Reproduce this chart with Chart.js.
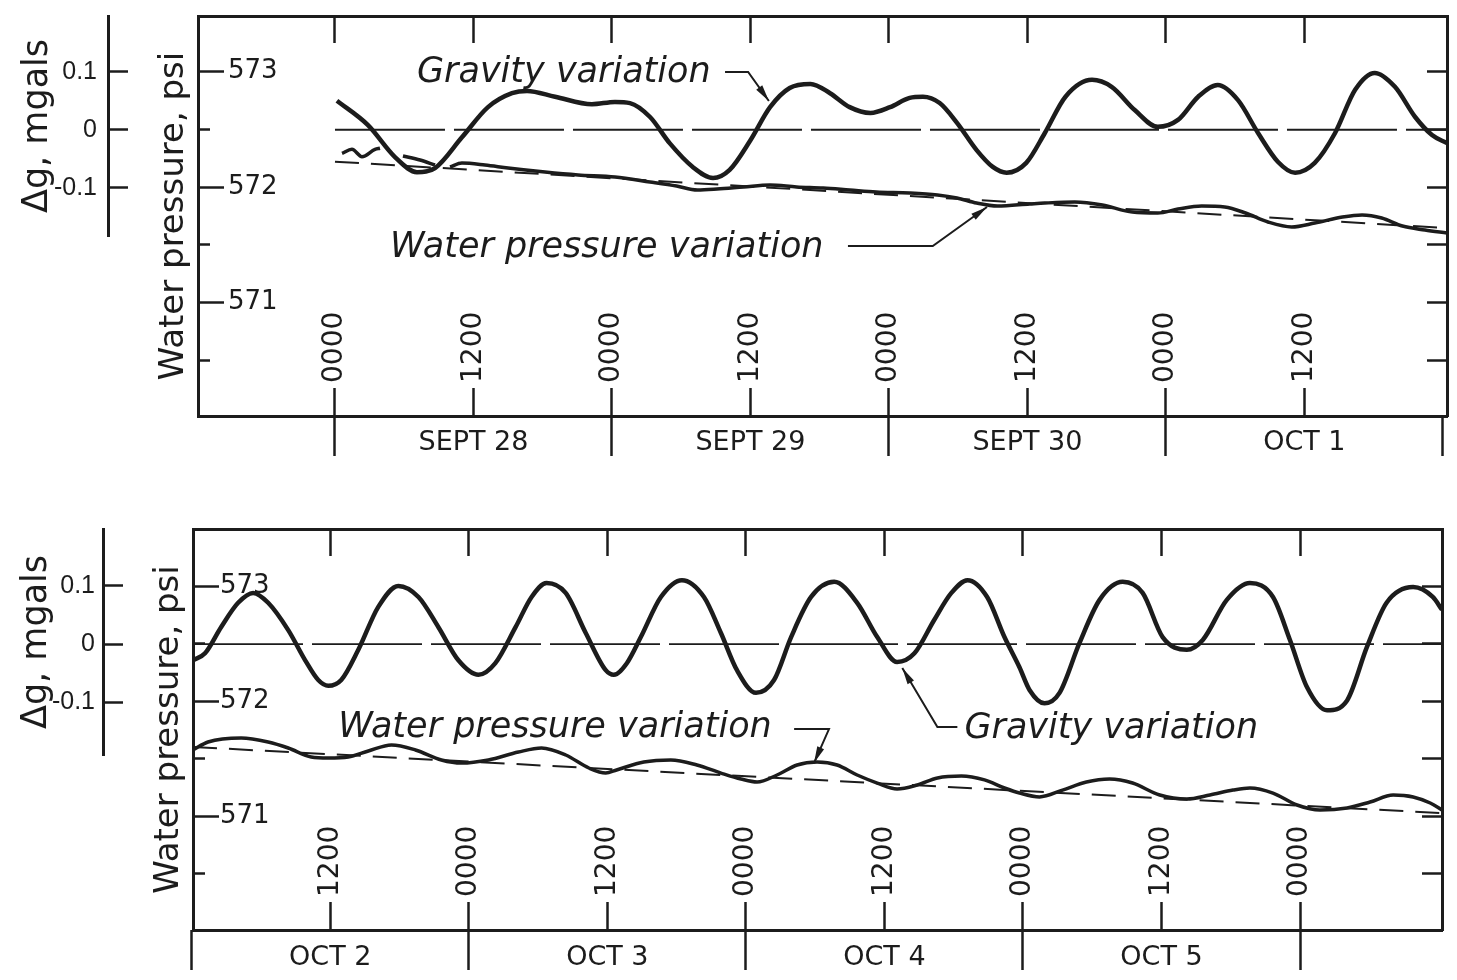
<!DOCTYPE html>
<html>
<head>
<meta charset="utf-8">
<script src="https://cdn.jsdelivr.net/npm/chart.js@4.4.1/dist/chart.umd.min.js"></script>
<style>
  body { margin: 0; background: #fff; width: 1457px; height: 980px; overflow: hidden; }
  .panel { position: absolute; left: 0; width: 1457px; height: 490px; }
</style>
</head>
<body>
<div class="panel" style="top:0"><canvas id="topChart" width="1457" height="490"></canvas></div>
<div class="panel" style="top:490px"><canvas id="bottomChart" width="1457" height="490"></canvas></div>
<script>
// hours are counted from 0000 Sept 28 (top) and 0000 Oct 2 (bottom)

// shared tick values
const pressureMajorTicks = [571, 572, 573];
const pressureMinorTicks = [570.5, 571.5, 572.5];
const pressureRightTicks = [570.5, 571, 571.5, 572, 572.5, 573];
const gravityTicks = [-0.1, 0, 0.1];

// top panel: Sept 28 - Oct 1
const topHourTicks = [0, 12, 24, 36, 48, 60, 72, 84];
const topHourLabels = ['0000', '1200', '0000', '1200', '0000', '1200', '0000', '1200'];
const topDayTicks = [0, 24, 48, 72, 96];
const topDateTicks = [12, 36, 60, 84];
const topDateLabels = ['SEPT 28', 'SEPT 29', 'SEPT 30', 'OCT 1'];

const topGravHours = [0.17, 2.86, 5.2, 7.1, 8.67, 11.0, 13.26, 15.34, 16.64, 19.07, 22.27, 24.26, 25.56, 27.3, 29.0,
  31.0, 32.76, 34.2, 36.0, 37.7, 39.4, 41.2, 42.9, 44.6, 46.4, 48.1, 49.8, 50.95, 52.4, 53.9, 55.6, 57.0, 58.2, 59.9,
  61.5, 63.3, 65.6, 67.3, 69.3, 71.3, 73.05, 74.8, 76.5, 78.25, 80.0, 81.7, 83.2, 84.9, 86.65, 88.4, 90.1, 91.85,
  93.6, 95.06, 96.36];
const topGravValues = [0.050, 0.008, -0.047, -0.073, -0.066, -0.013, 0.039, 0.063, 0.067, 0.057, 0.044, 0.048, 0.046,
  0.022, -0.023, -0.064, -0.083, -0.069, -0.018, 0.039, 0.072, 0.079, 0.063, 0.039, 0.029, 0.039, 0.055, 0.057, 0.046,
  0.012, -0.035, -0.064, -0.074, -0.057, -0.006, 0.057, 0.086, 0.074, 0.034, 0.005, 0.017, 0.057, 0.077, 0.051,
  -0.006, -0.055, -0.074, -0.057, -0.006, 0.069, 0.098, 0.074, 0.022, -0.009, -0.023];

const topPresHours = [0.61, 1.47, 2.34, 3.47, 3.9, 4.9, 5.89, 7.37, 8.67, 9.3, 9.97, 11.0, 13.0, 15.0, 18.2, 21.06,
  24.26, 27.3, 29.6, 31.4, 33.1, 35.4, 37.7, 40.0, 42.3, 44.6, 46.9, 49.8, 52.2, 53.9, 55.6, 57.4, 60.2, 61.5, 64.1,
  66.5, 69.1, 71.3, 73.05, 75.1, 77.1, 78.9, 80.85, 82.9, 84.9, 87.3, 89.0, 90.7, 92.5, 94.45, 96.36];
const topPresValues = [572.292, 572.327, 572.263, 572.327, 572.336, null, 572.269, 572.234, 572.191, null, 572.174,
  572.208, 572.191, 572.165, 572.130, 572.105, 572.087, 572.044, 572.009, 571.975, 571.983, 572.001, 572.018, 572.001,
  571.992, 571.975, 571.958, 571.949, 571.932, 571.906, 571.862, 571.836, 571.854, 571.862, 571.871, 571.845, 571.784,
  571.776, 571.810, 571.836, 571.828, 571.776, 571.698, 571.655, 571.689, 571.741, 571.759, 571.733, 571.663,
  571.629, 571.603];

const topTrendHours = [0, 96.36];
const topTrendValues = [572.22, 571.645];
const topZeroHours = [0, 96.36];
const topZeroValues = [0, 0];

// bottom panel: Oct 2 - Oct 6
const bottomHourTicks = [12, 24, 36, 48, 60, 72, 84, 96];
const bottomHourLabels = ['1200', '0000', '1200', '0000', '1200', '0000', '1200', '0000'];
const bottomDayTicks = [0, 24, 48, 72, 96];
const bottomDateTicks = [12, 36, 60, 84];
const bottomDateLabels = ['OCT 2', 'OCT 3', 'OCT 4', 'OCT 5'];

const bottomGravHours = [0.11, 1.15, 2.54, 4.02, 5.32, 6.62, 8.36, 9.83, 10.96, 11.83, 12.95, 14.43, 16.16, 17.9,
  19.64, 21.37, 23.1, 24.84, 26.3, 28.05, 29.44, 30.74, 32.39, 34.13, 35.86, 36.56, 37.69, 38.9, 40.64, 42.46, 44.37,
  45.84, 47.23, 48.88, 50.44, 51.92, 53.65, 55.65, 57.64, 59.38, 61.1, 62.6, 64.3, 65.8, 67.2, 68.9, 70.4, 71.7,
  72.57, 73.87, 75.17, 76.9, 78.64, 80.64, 82.37, 84.1, 86.2, 87.58, 89.66, 91.66, 93.66, 95.13, 96.6, 98.34,
  100.08, 101.8, 103.5, 105.8, 107.5, 108.3];
const bottomGravValues = [-0.028, -0.016, 0.029, 0.071, 0.088, 0.071, 0.024, -0.028, -0.062, -0.072, -0.062, -0.010,
  0.064, 0.100, 0.081, 0.029, -0.028, -0.053, -0.033, 0.029, 0.081, 0.105, 0.088, 0.019, -0.045, -0.053, -0.033,
  0.012, 0.081, 0.110, 0.081, 0.019, -0.045, -0.084, -0.062, 0.012, 0.081, 0.107, 0.071, 0.012, -0.031, -0.016,
  0.041, 0.088, 0.110, 0.081, 0.012, -0.040, -0.079, -0.102, -0.084, 0.002, 0.076, 0.107, 0.088, 0.012, -0.010,
  0.007, 0.076, 0.105, 0.081, 0.007, -0.074, -0.114, -0.097, -0.005, 0.071, 0.098, 0.081, 0.059];

const bottomPresHours = [0.11, 1.41, 4.28, 6.62, 8.36, 10.35, 11.83, 13.56, 15.3, 17.3, 19.38, 21.63, 23.37, 25.7,
  28.3, 30.3, 32.4, 34.4, 35.86, 36.8, 39.16, 41.5, 43.76, 45.84, 47.58, 48.97, 50.7, 52.44, 54.17, 55.9, 57.64,
  59.38, 61.1, 62.85, 64.6, 66.67, 68.67, 70.4, 71.7, 73.44, 75.43, 77.5, 79.5, 81.5, 83.85, 86.2, 88.2, 90.2,
  91.66, 93.66, 95.74, 97.73, 100.08, 102.07, 104.07, 105.8, 107.28, 108.3];
const bottomPresValues = [571.577, 571.646, 571.681, 571.646, 571.594, 571.516, 571.507, 571.516, 571.568, 571.620,
  571.577, 571.490, 571.463, 571.490, 571.559, 571.594, 571.533, 571.420, 571.376, 571.403, 571.472, 571.490,
  571.446, 571.376, 571.324, 571.298, 571.359, 571.446, 571.472, 571.446, 571.359, 571.289, 571.237, 571.272,
  571.333, 571.350, 571.316, 571.246, 571.202, 571.168, 571.228, 571.298, 571.324, 571.289, 571.185, 571.150,
  571.185, 571.228, 571.246, 571.202, 571.098, 571.054, 571.072, 571.124, 571.185, 571.168, 571.115, 571.055];

const bottomTrendHours = [0.11, 108.3];
const bottomTrendValues = [571.603, 571.027];
const bottomZeroHours = [0.11, 108.3];
const bottomZeroValues = [0, 0];

const INK = '#1c1c1c';
Chart.defaults.font.family = '"DejaVu Sans", sans-serif';
Chart.defaults.color = INK;

// fixed box sizes so the plot boxes land where the figure has them
function size(w, h) {
  return function (s) {
    if (w !== undefined) s.width = w;
    if (h !== undefined) s.height = h;
    s.paddingLeft = s.paddingRight = s.paddingTop = s.paddingBottom = 0;
  };
}
function ticksAt(values) {
  return function (s) { s.ticks = values.map(v => ({ value: v })); };
}
const pts = (xs, ys) => xs.map((x, i) => ({ x: x, y: ys[i] }));

// hour labels inside the box, captions and arrows
function sketch(cfg) {
  return {
    id: 'sketch',
    afterDatasetsDraw(chart) {
      const ctx = chart.ctx, xs = chart.scales.x, ps = chart.scales.p, area = chart.chartArea;
      ctx.save();
      ctx.fillStyle = INK;
      ctx.strokeStyle = INK;
      ctx.font = '28px "DejaVu Sans"';
      ctx.textAlign = 'left';
      ctx.textBaseline = 'middle';
      cfg.hourTicks.forEach((h, i) => {
        ctx.save();
        ctx.translate(xs.getPixelForValue(h), area.bottom - 33);
        ctx.rotate(-Math.PI / 2);
        ctx.fillText(cfg.hourLabels[i], 0, 0);
        ctx.restore();
      });

      ctx.font = 'italic 35px "DejaVu Sans"';
      ctx.textBaseline = 'alphabetic';
      cfg.notes.forEach(n => ctx.fillText(n.text, xs.getPixelForValue(n.x), ps.getPixelForValue(n.y)));

      ctx.lineWidth = 2;
      cfg.leaders.forEach(l => {
        const q = l.x.map((h, i) => [xs.getPixelForValue(h), ps.getPixelForValue(l.y[i])]);
        ctx.beginPath();
        q.forEach(([a, b], i) => i ? ctx.lineTo(a, b) : ctx.moveTo(a, b));
        ctx.stroke();
        const [x1, y1] = q[q.length - 2], [x2, y2] = q[q.length - 1];
        const ang = Math.atan2(y2 - y1, x2 - x1);
        ctx.beginPath();
        ctx.moveTo(x2, y2);
        ctx.lineTo(x2 - 17 * Math.cos(ang - 0.22), y2 - 17 * Math.sin(ang - 0.22));
        ctx.lineTo(x2 - 17 * Math.cos(ang + 0.22), y2 - 17 * Math.sin(ang + 0.22));
        ctx.closePath();
        ctx.fill();
      });
      ctx.restore();
    }
  };
}

function panel(id, cfg) {
  const tickMarks = (len) => ({ drawOnChartArea: false, tickLength: len, tickWidth: 2.5, tickColor: INK });
  const frame = { color: INK, width: 3 };
  const xr = { type: 'linear', min: cfg.xMin, max: cfg.xMax };
  const pr = { type: 'linear', min: cfg.pMin, max: cfg.pMax };

  new Chart(document.getElementById(id), {
    type: 'line',
    data: {
      datasets: [
        { label: 'Gravity variation', data: pts(cfg.gravHours, cfg.gravValues), yAxisID: 'g',
          borderColor: INK, borderWidth: 4.5, cubicInterpolationMode: 'monotone' },
        { label: 'Water pressure variation', data: pts(cfg.presHours, cfg.presValues), yAxisID: 'p',
          borderColor: INK, borderWidth: 3.5, cubicInterpolationMode: 'monotone', spanGaps: false },
        { label: 'Pressure trend', data: pts(cfg.trendHours, cfg.trendValues), yAxisID: 'p',
          borderColor: INK, borderWidth: 2, borderDash: [24, 12] },
        { label: 'Zero', data: pts(cfg.zeroHours, cfg.zeroValues), yAxisID: 'g',
          borderColor: INK, borderWidth: 1.8, borderDash: [110, 9] }
      ]
    },
    options: {
      responsive: false,
      animation: false,
      events: [],
      layout: { padding: cfg.padding },
      elements: { point: { radius: 0 }, line: { fill: false } },
      plugins: { legend: { display: false }, tooltip: { enabled: false } },
      scales: {
        x: { ...xr, position: 'bottom', weight: 1, afterBuildTicks: ticksAt(cfg.hourTicks),
          afterFit: size(undefined, 0), ticks: { display: false }, grid: tickMarks(-28), border: frame },
        days: { ...xr, position: 'bottom', weight: 2, afterBuildTicks: ticksAt(cfg.dayTicks),
          afterFit: size(undefined, 0), ticks: { display: false }, grid: tickMarks(40), border: { display: false } },
        dates: { ...xr, position: 'bottom', weight: 3, afterBuildTicks: ticksAt(cfg.dateTicks),
          afterFit: size(undefined, cfg.dateBand),
          ticks: { callback: (v, i) => cfg.dateLabels[i], padding: cfg.datePad, font: { size: 27 },
            maxRotation: 0, autoSkip: false },
          grid: { display: false, drawTicks: false }, border: { display: false } },
        xt: { ...xr, position: 'top', afterBuildTicks: ticksAt(cfg.hourTicks), afterFit: size(undefined, 0),
          ticks: { display: false }, grid: tickMarks(-27), border: frame },
        g: { type: 'linear', position: 'left', stack: 'dg', stackWeight: cfg.gWeight, weight: 4,
          min: cfg.gMin, max: cfg.gMax, afterBuildTicks: ticksAt(gravityTicks), afterFit: size(cfg.gWidth),
          ticks: { callback: v => String(v), padding: cfg.gPad,
            font: { family: '"Liberation Sans", sans-serif', size: 25 } },
          grid: tickMarks(-20), border: frame,
          title: { display: true, text: 'Δg, mgals', font: { size: 35 }, padding: { top: cfg.gTitlePad, bottom: 0 } } },
        gpad: { type: 'linear', position: 'left', stack: 'dg', stackWeight: cfg.gpadWeight, weight: 3,
          min: 0, max: 1, afterFit: size(cfg.gWidth),
          ticks: { display: false }, grid: { display: false }, border: { display: false } },
        p: { ...pr, position: 'left', weight: 2, afterBuildTicks: ticksAt(pressureMajorTicks), afterFit: size(90),
          ticks: { mirror: true, padding: cfg.pPad, callback: v => String(v), font: { size: 26 } },
          grid: tickMarks(-26), border: frame,
          title: { display: true, text: 'Water pressure, psi', font: { size: 34 }, padding: { top: 46, bottom: 0 } } },
        p2: { ...pr, position: 'left', weight: 1, afterBuildTicks: ticksAt(pressureMinorTicks), afterFit: size(0),
          ticks: { display: false }, grid: tickMarks(-12), border: { display: false } },
        pr: { ...pr, position: 'right', afterBuildTicks: ticksAt(pressureRightTicks), afterFit: size(0),
          ticks: { display: false }, grid: tickMarks(-20), border: frame }
      }
    },
    plugins: [sketch(cfg)]
  });
}

panel('topChart', {
  gravHours: topGravHours, gravValues: topGravValues,
  presHours: topPresHours, presValues: topPresValues,
  trendHours: topTrendHours, trendValues: topTrendValues,
  zeroHours: topZeroHours, zeroValues: topZeroValues,
  hourTicks: topHourTicks, hourLabels: topHourLabels,
  dayTicks: topDayTicks, dateTicks: topDateTicks, dateLabels: topDateLabels,
  xMin: -11.87, xMax: 96.36, pMin: 570.02, pMax: 573.48, gMin: -0.183, gMax: 0.196,
  gWeight: 220, gpadWeight: 180, gWidth: 108, gPad: 31, gTitlePad: 17, pPad: 30,
  dateBand: 60, datePad: 11,
  padding: { top: 16, right: 10, bottom: 14, left: 0 },
  notes: [
    { text: 'Gravity variation', x: 7.1, y: 572.909 },
    { text: 'Water pressure variation', x: 4.77, y: 571.395 }
  ],
  leaders: [
    { x: [33.8, 35.8, 37.6], y: [572.996, 572.996, 572.745] },
    { x: [44.45, 51.8, 56.5], y: [571.49, 571.49, 571.828] }
  ]
});

panel('bottomChart', {
  gravHours: bottomGravHours, gravValues: bottomGravValues,
  presHours: bottomPresHours, presValues: bottomPresValues,
  trendHours: bottomTrendHours, trendValues: bottomTrendValues,
  zeroHours: bottomZeroHours, zeroValues: bottomZeroValues,
  hourTicks: bottomHourTicks, hourLabels: bottomHourLabels,
  dayTicks: bottomDayTicks, dateTicks: bottomDateTicks, dateLabels: bottomDateLabels,
  xMin: 0.11, xMax: 108.3, pMin: 570.01, pMax: 573.5, gMin: -0.191, gMax: 0.198,
  gWeight: 226, gpadWeight: 175, gWidth: 103, gPad: 28, gTitlePad: 16, pPad: 27,
  dateBand: 40, datePad: 12,
  padding: { top: 39, right: 15, bottom: 10, left: 0 },
  notes: [
    { text: 'Water pressure variation', x: 12.69, y: 571.69 },
    { text: 'Gravity variation', x: 66.93, y: 571.68 }
  ],
  leaders: [
    { x: [52.18, 55.2, 53.9], y: [571.759, 571.759, 571.463] },
    { x: [66.32, 64.59, 61.55], y: [571.777, 571.777, 572.29] }
  ]
});
</script>
</body>
</html>
